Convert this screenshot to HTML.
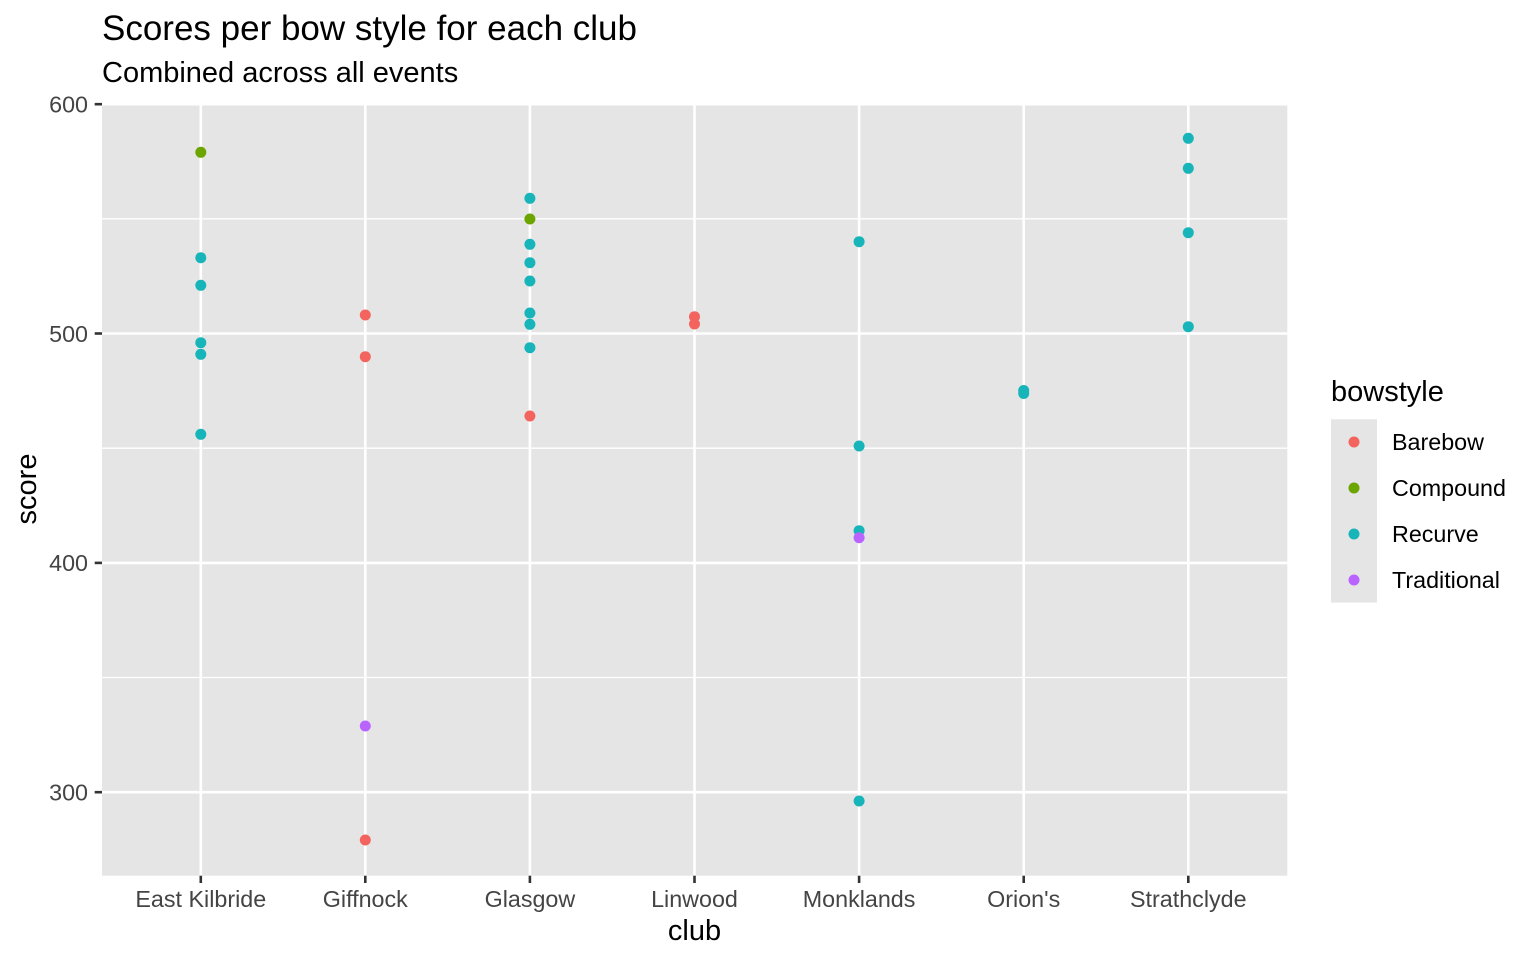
<!DOCTYPE html>
<html><head><meta charset="utf-8"><style>
html,body{margin:0;padding:0;background:#fff;}
svg{display:block;}
text{font-family:"Liberation Sans",Arial,sans-serif;}
</style></head><body>
<svg width="1536" height="960" viewBox="0 0 1536 960" xmlns="http://www.w3.org/2000/svg">
<rect width="1536" height="960" fill="#fff"/>
<!-- panel -->
<rect x="102" y="103.3" width="1185.3" height="772.4" fill="#E5E5E5"/>
<!-- minor gridlines -->
<g stroke="#fff" stroke-width="1.3">
<line x1="102" x2="1287.3" y1="218.8" y2="218.8"/>
<line x1="102" x2="1287.3" y1="448.2" y2="448.2"/>
<line x1="102" x2="1287.3" y1="677.5" y2="677.5"/>
</g>
<!-- major gridlines -->
<g stroke="#fff" stroke-width="2.6">
<line x1="102" x2="1287.3" y1="104.2" y2="104.2"/>
<line x1="102" x2="1287.3" y1="333.5" y2="333.5"/>
<line x1="102" x2="1287.3" y1="562.9" y2="562.9"/>
<line x1="102" x2="1287.3" y1="792.2" y2="792.2"/>
<line x1="200.8" x2="200.8" y1="103.3" y2="875.7"/>
<line x1="365.3" x2="365.3" y1="103.3" y2="875.7"/>
<line x1="529.9" x2="529.9" y1="103.3" y2="875.7"/>
<line x1="694.5" x2="694.5" y1="103.3" y2="875.7"/>
<line x1="859.1" x2="859.1" y1="103.3" y2="875.7"/>
<line x1="1023.7" x2="1023.7" y1="103.3" y2="875.7"/>
<line x1="1188.3" x2="1188.3" y1="103.3" y2="875.7"/>
</g>
<!-- ticks -->
<g stroke="#333" stroke-width="2.6">
<line x1="94.7" x2="102" y1="104.2" y2="104.2"/>
<line x1="94.7" x2="102" y1="333.5" y2="333.5"/>
<line x1="94.7" x2="102" y1="562.9" y2="562.9"/>
<line x1="94.7" x2="102" y1="792.2" y2="792.2"/>
<line x1="200.8" x2="200.8" y1="875.7" y2="883"/>
<line x1="365.3" x2="365.3" y1="875.7" y2="883"/>
<line x1="529.9" x2="529.9" y1="875.7" y2="883"/>
<line x1="694.5" x2="694.5" y1="875.7" y2="883"/>
<line x1="859.1" x2="859.1" y1="875.7" y2="883"/>
<line x1="1023.7" x2="1023.7" y1="875.7" y2="883"/>
<line x1="1188.3" x2="1188.3" y1="875.7" y2="883"/>
</g>
<!-- y tick labels -->
<g fill="#444" font-size="23.3" text-anchor="end">
<text x="88" y="112.5">600</text>
<text x="88" y="341.8">500</text>
<text x="88" y="571.2">400</text>
<text x="88" y="800.5">300</text>
</g>
<!-- x tick labels -->
<g fill="#444" font-size="23.3" text-anchor="middle">
<text x="200.8" y="907">East Kilbride</text>
<text x="365.3" y="907">Giffnock</text>
<text x="529.9" y="907">Glasgow</text>
<text x="694.5" y="907">Linwood</text>
<text x="859.1" y="907">Monklands</text>
<text x="1023.7" y="907">Orion's</text>
<text x="1188.3" y="907">Strathclyde</text>
</g>
<!-- axis titles -->
<text x="694.5" y="940" font-size="29" text-anchor="middle" fill="#000">club</text>
<text transform="translate(36,489) rotate(-90)" font-size="29" text-anchor="middle" fill="#000">score</text>
<!-- title -->
<text x="102" y="40" font-size="35" fill="#000">Scores per bow style for each club</text>
<text x="102" y="82" font-size="29" fill="#000">Combined across all events</text>
<!-- points -->
<g>
<!-- East Kilbride -->
<circle cx="200.8" cy="152.3" r="5.5" fill="#6CA500"/>
<circle cx="200.8" cy="257.7" r="5.5" fill="#17B5B9"/>
<circle cx="200.8" cy="285.3" r="5.5" fill="#17B5B9"/>
<circle cx="200.8" cy="342.7" r="5.5" fill="#17B5B9"/>
<circle cx="200.8" cy="354.3" r="5.5" fill="#17B5B9"/>
<circle cx="200.8" cy="434.3" r="5.5" fill="#17B5B9"/>
<!-- Giffnock -->
<circle cx="365.3" cy="315" r="5.5" fill="#F3645E"/>
<circle cx="365.3" cy="356.7" r="5.5" fill="#F3645E"/>
<circle cx="365.3" cy="840" r="5.5" fill="#F3645E"/>
<circle cx="365.3" cy="726" r="5.5" fill="#B964FF"/>
<!-- Glasgow -->
<circle cx="529.9" cy="198.3" r="5.5" fill="#17B5B9"/>
<circle cx="529.9" cy="244.3" r="5.5" fill="#17B5B9"/>
<circle cx="529.9" cy="262.7" r="5.5" fill="#17B5B9"/>
<circle cx="529.9" cy="281" r="5.5" fill="#17B5B9"/>
<circle cx="529.9" cy="313" r="5.5" fill="#17B5B9"/>
<circle cx="529.9" cy="324.3" r="5.5" fill="#17B5B9"/>
<circle cx="529.9" cy="347.7" r="5.5" fill="#17B5B9"/>
<circle cx="529.9" cy="219" r="5.5" fill="#6CA500"/>
<circle cx="529.9" cy="416" r="5.5" fill="#F3645E"/>
<!-- Linwood -->
<circle cx="694.5" cy="316.7" r="5.5" fill="#F3645E"/>
<circle cx="694.5" cy="324" r="5.5" fill="#F3645E"/>
<!-- Monklands -->
<circle cx="859.1" cy="241.7" r="5.5" fill="#17B5B9"/>
<circle cx="859.1" cy="446" r="5.5" fill="#17B5B9"/>
<circle cx="859.1" cy="530.7" r="5.5" fill="#17B5B9"/>
<circle cx="859.1" cy="801" r="5.5" fill="#17B5B9"/>
<circle cx="859.1" cy="537.7" r="5.5" fill="#B964FF"/>
<!-- Orion's -->
<circle cx="1023.7" cy="390.5" r="5.5" fill="#17B5B9"/>
<circle cx="1023.7" cy="393.5" r="5.5" fill="#17B5B9"/>
<!-- Strathclyde -->
<circle cx="1188.3" cy="138.3" r="5.5" fill="#17B5B9"/>
<circle cx="1188.3" cy="168.3" r="5.5" fill="#17B5B9"/>
<circle cx="1188.3" cy="232.7" r="5.5" fill="#17B5B9"/>
<circle cx="1188.3" cy="326.7" r="5.5" fill="#17B5B9"/>
</g>
<!-- legend -->
<text x="1331" y="401" font-size="29" fill="#000">bowstyle</text>
<rect x="1331" y="419.3" width="46" height="183.3" fill="#E5E5E5"/>
<circle cx="1354" cy="442" r="5.5" fill="#F3645E"/>
<circle cx="1354" cy="488" r="5.5" fill="#6CA500"/>
<circle cx="1354" cy="534" r="5.5" fill="#17B5B9"/>
<circle cx="1354" cy="580" r="5.5" fill="#B964FF"/>
<g font-size="23.3" fill="#000">
<text x="1392" y="450">Barebow</text>
<text x="1392" y="496">Compound</text>
<text x="1392" y="542">Recurve</text>
<text x="1392" y="588">Traditional</text>
</g>
</svg>
</body></html>
